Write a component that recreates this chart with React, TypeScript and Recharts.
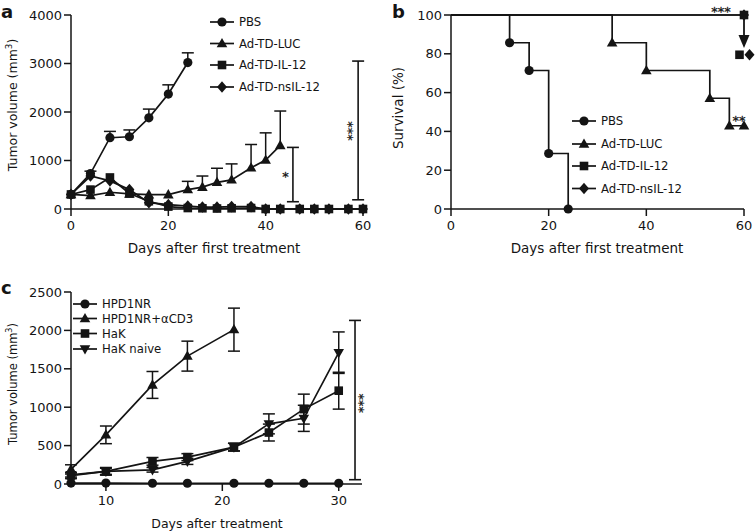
import React from "react";
import {
  ComposedChart,
  Line,
  Scatter,
  XAxis,
  YAxis,
  ErrorBar,
  ReferenceLine,
  ReferenceDot,
} from "recharts";

const FONT = "'DejaVu Sans', Verdana, sans-serif";
const INK = "#141414";
const LW = 1.7;

// ---- a: tumor volume, days after first treatment
const aPbsDays = [0, 4, 8, 12, 16, 20, 24];
const aPbsVol = [300, 730, 1470, 1490, 1880, 2370, 3020];
const aPbsErr = [0, 50, 130, 140, 180, 190, 200];

const aLucDays = [0, 4, 8, 12, 16, 20, 24, 27, 30, 33, 37, 40, 43];
const aLucVol = [300, 275, 345, 310, 295, 295, 400, 450, 550, 600, 850, 1010, 1310];
const aLucErr = [0, 0, 0, 0, 0, 0, 170, 230, 290, 330, 480, 560, 710];

const aIlDays = [0, 4, 8, 12, 16, 20, 24, 27, 30, 33, 37, 40, 43, 47, 50, 53, 57, 60];
const aIl12Vol = [300, 400, 650, 320, 160, 50, 20, 15, 10, 15, 20, 0, 0, 0, 0, 0, 0, 0];
const aNsIl12Vol = [300, 680, 580, 400, 130, 90, 60, 40, 40, 50, 50, 0, 0, 0, 0, 0, 0, 0];

const aXTicks = [0, 20, 40, 60];
const aYTicks = [0, 1000, 2000, 3000, 4000];

const aBracketDays = [45.6, 59];
const aBracketLow = [150, 190];
const aBracketHigh = [1270, 3050];
const aStarDays = [44.1, 57.7];
const aStarVals = [742, 1610];
const aStarText = ["*", "***"];
const aStarAngle = [0, 90];

// ---- b: survival
const bPbsDays = [0, 12, 16, 20, 24];
const bPbsSurv = [100, 85.7, 71.4, 28.6, 0];
const bLucDays = [0, 33, 40, 53, 57, 60];
const bLucSurv = [100, 85.7, 71.4, 57.1, 42.9, 42.9];
const bIlDays = [0, 60];
const bIl12Surv = [100, 100];
const bNsIl12Surv = [100, 100];

const bXTicks = [0, 20, 40, 60];
const bYTicks = [0, 20, 40, 60, 80, 100];

const bArrowDay = 60;
const bArrowFrom = 100;
const bArrowTo = 83;
const bPairVal = 79.5;
const bStarDays = [55.3, 59];
const bStarVals = [103.5, 47.4];
const bStarText = ["***", "**"];

// ---- c: tumor volume, days after treatment
const cDays = [7, 10, 14, 17, 21, 24, 27, 30];
const cHpd1nr = [12, 12, 10, 10, 10, 10, 10, 10];
const cCd3Days = [7, 10, 14, 17, 21];
const cCd3 = [190, 640, 1290, 1665, 2010];
const cCd3Err = [60, 115, 175, 195, 280];
const cHak = [110, 165, 295, 350, 480, 670, 975, 1215];
const cHakErr = [40, 50, 50, 45, 50, 110, 195, 240];
const cNaive = [120, 165, 185, 295, 480, 783, 855, 1710];
const cNaiveErr = [30, 40, 30, 40, 50, 130, 170, 270];

const cXTicks = [10, 20, 30];
const cYTicks = [0, 500, 1000, 1500, 2000, 2500];

const cBracketDay = 31.4;
const cBracketLow = 56;
const cBracketHigh = 2130;
const cStarDay = 32;
const cStarVal = 1050;

type Shape = "circle" | "triangle" | "triangleDown" | "square" | "diamond";

const pts = (xs: number[], ys: number[], es?: number[]) =>
  xs.map((x, i) => ({ x, y: ys[i], e: es ? es[i] : 0 }));

function Marker({ cx, cy, shape }: { cx: number; cy: number; shape: Shape }) {
  switch (shape) {
    case "circle":
      return <circle cx={cx} cy={cy} r={4.6} fill={INK} />;
    case "square":
      return <rect x={cx - 4.3} y={cy - 4.3} width={8.6} height={8.6} fill={INK} />;
    case "triangle":
      return (
        <polygon
          points={`${cx},${cy - 5.6} ${cx + 5.3},${cy + 3.7} ${cx - 5.3},${cy + 3.7}`}
          fill={INK}
        />
      );
    case "triangleDown":
      return (
        <polygon
          points={`${cx},${cy + 5.6} ${cx + 5.3},${cy - 3.7} ${cx - 5.3},${cy - 3.7}`}
          fill={INK}
        />
      );
    default:
      return (
        <polygon
          points={`${cx},${cy - 5.8} ${cx + 5},${cy} ${cx},${cy + 5.8} ${cx - 5},${cy}`}
          fill={INK}
        />
      );
  }
}

const dot = (shape: Shape, skipFirst = false) => (p: any) => {
  const key = `${shape}-${p.index}`;
  if ((skipFirst && p.index === 0) || p.cx == null || p.cy == null) return <g key={key} />;
  return <Marker key={key} cx={p.cx} cy={p.cy} shape={shape} />;
};

const noShape = () => <g />;

const capShape = (p: any) => (
  <line x1={p.cx - 6} x2={p.cx + 6} y1={p.cy} y2={p.cy} stroke={INK} strokeWidth={1.5} />
);

// significance asterisks, centred on the point (optionally rotated)
const starShape = (text: string, angle = 0) => (p: any) => (
  <text
    x={p.cx}
    y={p.cy + 7.5}
    textAnchor="middle"
    fontSize={13}
    fontFamily={FONT}
    fill={INK}
    stroke={INK}
    strokeWidth={0.3}
    transform={angle ? `rotate(${angle} ${p.cx} ${p.cy})` : undefined}
  >
    {text}
  </text>
);

const arrowShape = (p: any) => (
  <polygon
    points={`${p.cx},${p.cy} ${p.cx - 5.5},${p.cy - 13} ${p.cx + 5.5},${p.cy - 13}`}
    fill={INK}
  />
);

const pairShape = (p: any) => (
  <g>
    <Marker cx={p.cx - 4.5} cy={p.cy} shape="square" />
    <Marker cx={p.cx + 5.5} cy={p.cy} shape="diamond" />
  </g>
);

const axisLine = { stroke: INK, strokeWidth: 1.5 };
const tick = { fill: INK, fontSize: 13, fontFamily: FONT };

function PanelA() {
  const upBars = [
    ...pts(aPbsDays, aPbsVol, aPbsErr),
    ...pts(aLucDays, aLucVol, aLucErr),
  ].filter((p) => p.e > 0);
  const brackets = aBracketDays.map((x, i) => ({
    x,
    y: aBracketLow[i],
    e: [0, aBracketHigh[i] - aBracketLow[i]],
  }));

  return (
    <ComposedChart width={380} height={262} margin={{ top: 15, right: 17, bottom: 0, left: 0 }}>
      <XAxis
        dataKey="x"
        type="number"
        domain={[0, 60]}
        ticks={aXTicks}
        axisLine={axisLine}
        tickLine={axisLine}
        tickSize={7}
        tickMargin={5}
        tick={tick}
        height={53}
      />
      <YAxis
        dataKey="y"
        type="number"
        domain={[0, 4000]}
        ticks={aYTicks}
        axisLine={axisLine}
        tickLine={axisLine}
        tickSize={7}
        tickMargin={2}
        tick={tick}
        width={71}
      />

      {upBars.map((p, i) => (
        <ReferenceLine
          key={`ub${i}`}
          segment={[
            { x: p.x, y: p.y },
            { x: p.x, y: p.y + p.e },
          ]}
          stroke={INK}
          strokeWidth={1.5}
          ifOverflow="visible"
        />
      ))}
      {upBars.map((p, i) => (
        <ReferenceDot key={`uc${i}`} x={p.x} y={p.y + p.e} shape={capShape} ifOverflow="visible" />
      ))}

      <Scatter data={brackets} shape={noShape} isAnimationActive={false}>
        <ErrorBar dataKey="e" direction="y" width={6} stroke={INK} strokeWidth={1.6} />
      </Scatter>
      {aStarDays.map((x, i) => (
        <ReferenceDot
          key={`as${i}`}
          x={x}
          y={aStarVals[i]}
          shape={starShape(aStarText[i], aStarAngle[i])}
          ifOverflow="visible"
        />
      ))}

      <Line data={pts(aIlDays, aNsIl12Vol)} dataKey="y" stroke={INK} strokeWidth={LW} dot={dot("diamond")} isAnimationActive={false} />
      <Line data={pts(aIlDays, aIl12Vol)} dataKey="y" stroke={INK} strokeWidth={LW} dot={dot("square")} isAnimationActive={false} />
      <Line data={pts(aLucDays, aLucVol)} dataKey="y" stroke={INK} strokeWidth={LW} dot={dot("triangle")} isAnimationActive={false} />
      <Line data={pts(aPbsDays, aPbsVol)} dataKey="y" stroke={INK} strokeWidth={LW} dot={dot("circle")} isAnimationActive={false} />
    </ComposedChart>
  );
}

function PanelB() {
  return (
    <ComposedChart width={375} height={262} margin={{ top: 15, right: 11, bottom: 0, left: 0 }}>
      <XAxis
        dataKey="x"
        type="number"
        domain={[0, 60]}
        ticks={bXTicks}
        axisLine={axisLine}
        tickLine={axisLine}
        tickSize={7}
        tickMargin={5}
        tick={tick}
        height={53}
      />
      <YAxis
        dataKey="y"
        type="number"
        domain={[0, 100]}
        ticks={bYTicks}
        axisLine={axisLine}
        tickLine={axisLine}
        tickSize={7}
        tickMargin={2}
        tick={tick}
        width={71}
      />

      <Line type="stepAfter" data={pts(bPbsDays, bPbsSurv)} dataKey="y" stroke={INK} strokeWidth={LW} dot={dot("circle", true)} isAnimationActive={false} />
      <Line type="stepAfter" data={pts(bLucDays, bLucSurv)} dataKey="y" stroke={INK} strokeWidth={LW} dot={dot("triangle", true)} isAnimationActive={false} />
      <Line type="stepAfter" data={pts(bIlDays, bNsIl12Surv)} dataKey="y" stroke={INK} strokeWidth={LW} dot={dot("diamond", true)} isAnimationActive={false} />
      <Line type="stepAfter" data={pts(bIlDays, bIl12Surv)} dataKey="y" stroke={INK} strokeWidth={LW} dot={dot("square", true)} isAnimationActive={false} />

      <ReferenceLine
        segment={[
          { x: bArrowDay, y: bArrowFrom },
          { x: bArrowDay, y: bArrowTo + 4 },
        ]}
        stroke={INK}
        strokeWidth={1.8}
        ifOverflow="visible"
      />
      <ReferenceDot x={bArrowDay} y={bArrowTo} shape={arrowShape} ifOverflow="visible" />
      <ReferenceDot x={bArrowDay} y={bPairVal} shape={pairShape} ifOverflow="visible" />
      {bStarDays.map((x, i) => (
        <ReferenceDot key={`bs${i}`} x={x} y={bStarVals[i]} shape={starShape(bStarText[i])} ifOverflow="visible" />
      ))}
    </ComposedChart>
  );
}

function PanelC() {
  return (
    <ComposedChart width={380} height={269} margin={{ top: 30, right: 18, bottom: 0, left: 0 }}>
      <XAxis
        dataKey="x"
        type="number"
        domain={[7, 32]}
        ticks={cXTicks}
        axisLine={axisLine}
        tickLine={axisLine}
        tickSize={7}
        tickMargin={5}
        tick={tick}
        height={47}
      />
      <YAxis
        dataKey="y"
        type="number"
        domain={[0, 2500]}
        ticks={cYTicks}
        axisLine={axisLine}
        tickLine={axisLine}
        tickSize={7}
        tickMargin={2}
        tick={tick}
        width={71}
      />

      <Scatter
        data={[{ x: cBracketDay, y: cBracketLow, e: [0, cBracketHigh - cBracketLow] }]}
        shape={noShape}
        isAnimationActive={false}
      >
        <ErrorBar dataKey="e" direction="y" width={6} stroke={INK} strokeWidth={1.6} />
      </Scatter>
      <ReferenceDot x={cStarDay} y={cStarVal} shape={starShape("***", 90)} ifOverflow="visible" />

      <Line data={pts(cDays, cHpd1nr)} dataKey="y" stroke={INK} strokeWidth={LW} dot={dot("circle")} isAnimationActive={false} />
      <Line data={pts(cCd3Days, cCd3, cCd3Err)} dataKey="y" stroke={INK} strokeWidth={LW} dot={dot("triangle")} isAnimationActive={false}>
        <ErrorBar dataKey="e" direction="y" width={6} stroke={INK} strokeWidth={1.5} />
      </Line>
      <Line data={pts(cDays, cHak, cHakErr)} dataKey="y" stroke={INK} strokeWidth={LW} dot={dot("square")} isAnimationActive={false}>
        <ErrorBar dataKey="e" direction="y" width={6} stroke={INK} strokeWidth={1.5} />
      </Line>
      <Line data={pts(cDays, cNaive, cNaiveErr)} dataKey="y" stroke={INK} strokeWidth={LW} dot={dot("triangleDown")} isAnimationActive={false}>
        <ErrorBar dataKey="e" direction="y" width={6} stroke={INK} strokeWidth={1.5} />
      </Line>
    </ComposedChart>
  );
}

const aLegend: [string, Shape][] = [
  ["PBS", "circle"],
  ["Ad-TD-LUC", "triangle"],
  ["Ad-TD-IL-12", "square"],
  ["Ad-TD-nsIL-12", "diamond"],
];
const cLegend: [string, Shape][] = [
  ["HPD1NR", "circle"],
  ["HPD1NR+αCD3", "triangle"],
  ["HaK", "square"],
  ["HaK naive", "triangleDown"],
];

function LegendRows({ x, ys, items }: { x: number; ys: number[]; items: [string, Shape][] }) {
  return (
    <g>
      {items.map(([name, shape], i) => (
        <g key={name}>
          <line x1={x} x2={x + 24} y1={ys[i]} y2={ys[i]} stroke={INK} strokeWidth={LW} />
          <Marker cx={x + 12} cy={ys[i]} shape={shape} />
          <text x={x + 29} y={ys[i] + 4.3} fontSize={11.7} fontFamily={FONT} fill={INK}>
            {name}
          </text>
        </g>
      ))}
    </g>
  );
}

function YTitle({ x, y, size, children }: { x: number; y: number; size: number; children: React.ReactNode }) {
  return (
    <text
      transform={`translate(${x},${y}) rotate(-90)`}
      textAnchor="middle"
      fontSize={size}
      fontFamily={FONT}
      fill={INK}
    >
      {children}
    </text>
  );
}

const tumorTitle = (
  <>
    Tumor volume (mm
    <tspan dy={-5} fontSize="70%">
      3
    </tspan>
    <tspan dy={5}>)</tspan>
  </>
);

export default function App() {
  return (
    <div
      style={{
        position: "absolute",
        left: 0,
        top: 0,
        width: 755,
        height: 531,
        background: "#fff",
        fontFamily: FONT,
      }}
    >
      <div style={{ position: "absolute", left: 0, top: 0 }}>
        <PanelA />
      </div>
      <div style={{ position: "absolute", left: 380, top: 0 }}>
        <PanelB />
      </div>
      <div style={{ position: "absolute", left: 0, top: 262 }}>
        <PanelC />
      </div>

      <svg
        width={755}
        height={531}
        style={{ position: "absolute", left: 0, top: 0, pointerEvents: "none" }}
      >
        <text x={1} y={18} fontSize={18} fontWeight="bold" fontFamily={FONT} fill={INK}>a</text>
        <text x={392} y={18} fontSize={18} fontWeight="bold" fontFamily={FONT} fill={INK}>b</text>
        <text x={1} y={294} fontSize={18} fontWeight="bold" fontFamily={FONT} fill={INK}>c</text>

        <YTitle x={17} y={105} size={12.5}>{tumorTitle}</YTitle>
        <YTitle x={403} y={108} size={13.5}>Survival (%)</YTitle>
        <YTitle x={17} y={384} size={11.5}>{tumorTitle}</YTitle>

        <text x={214} y={253} textAnchor="middle" fontSize={13.5} fontFamily={FONT} fill={INK}>
          Days after first treatment
        </text>
        <text x={597} y={253} textAnchor="middle" fontSize={13.5} fontFamily={FONT} fill={INK}>
          Days after first treatment
        </text>
        <text x={217} y={528} textAnchor="middle" fontSize={12.5} fontFamily={FONT} fill={INK}>
          Days after treatment
        </text>

        <LegendRows x={210} ys={[22, 43.5, 65, 87]} items={aLegend} />
        <LegendRows x={572} ys={[121, 144, 166, 188.5]} items={aLegend} />
        <LegendRows x={73} ys={[304, 318.5, 333.5, 349]} items={cLegend} />
      </svg>
    </div>
  );
}
